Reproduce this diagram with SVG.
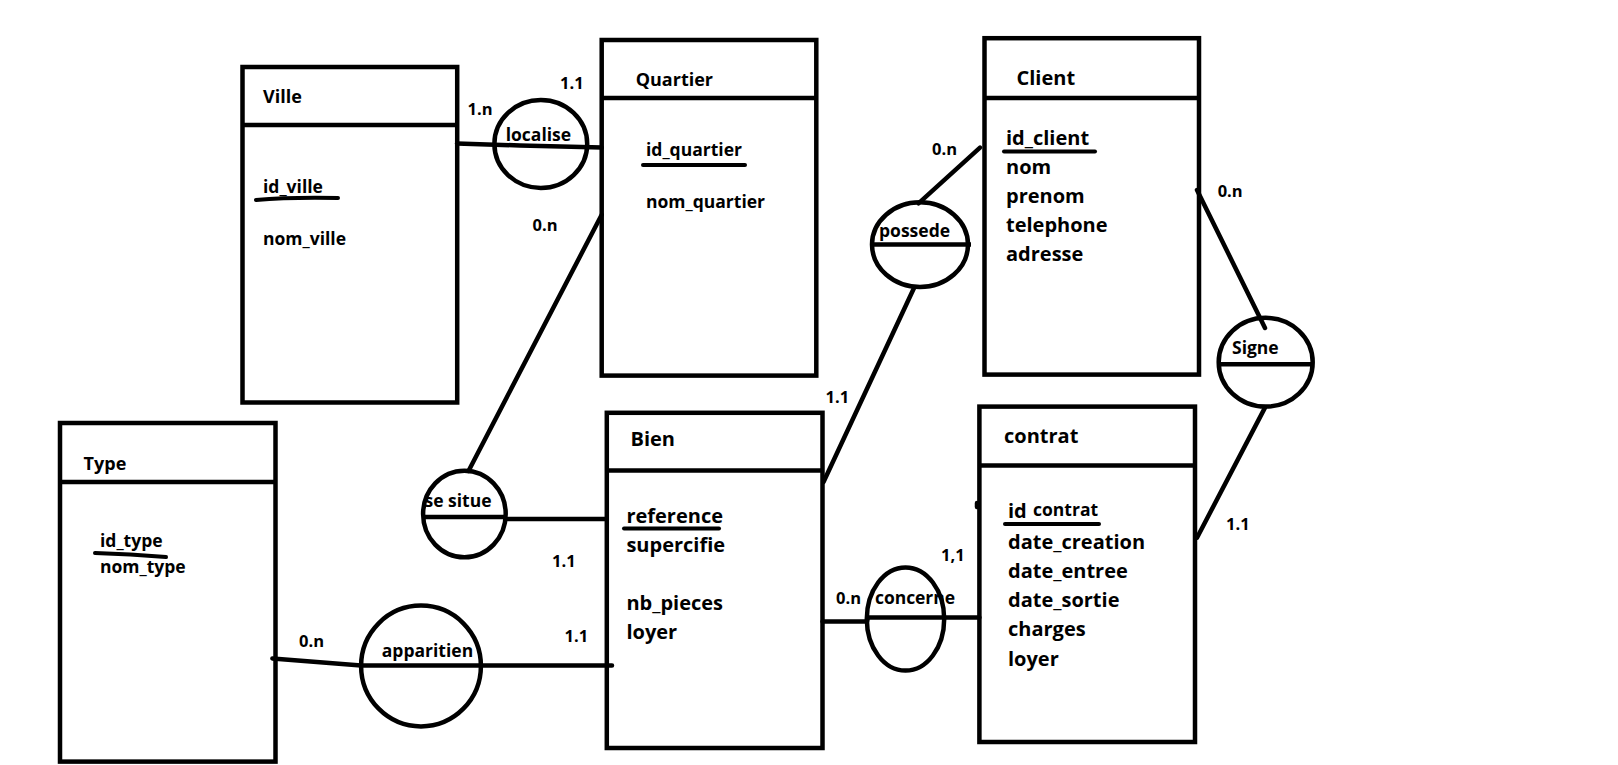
<svg xmlns="http://www.w3.org/2000/svg" width="1618" height="765" viewBox="0 0 1618 765">
<style>
.box{fill:none;stroke:#000;stroke-width:4.5}
.ln{fill:none;stroke:#000;stroke-width:4.5;stroke-linecap:round}
.ul{fill:none;stroke:#000;stroke-width:4;stroke-linecap:round}
.ass{fill:none;stroke:#000;stroke-width:4.5}
text{font-family:"Open Sans","Noto Sans","Liberation Sans",sans-serif;font-weight:700;fill:#000}
.t1{font-size:18px}
.t2{font-size:20px}
.a1{font-size:17.5px}
.a2{font-size:20px}
.an{font-size:17.5px}
.card{font-size:16.5px}
</style>
<rect width="1618" height="765" fill="#fff"/>
<g id="connectors">
<polyline class="ln" points="457,143.5 520,145.5 601.7,147.5"/>
<line class="ln" x1="468.5" y1="471" x2="601.7" y2="214.7"/>
<line class="ln" x1="505.7" y1="519" x2="606.8" y2="519"/>
<polyline class="ln" points="272.4,658.4 361,665.6 612,665.6"/>
<line class="ln" x1="918.5" y1="203.3" x2="980" y2="147.6"/>
<line class="ln" x1="914" y1="288" x2="823.5" y2="482"/>
<line class="ln" x1="1197" y1="190" x2="1265" y2="328"/>
<line class="ln" x1="1265" y1="407.6" x2="1197" y2="537.7"/>
<polyline class="ln" points="822.5,621.5 867,621.5 868,617.5 979.4,617.5"/>
<line class="ln" x1="977" y1="503" x2="977" y2="507"/>
</g>
<g id="labels">
<text class="card" x="467.5" y="115">1.n</text>
<text class="card" x="560" y="89">1.1</text>
<text class="card" x="532.5" y="231">0.n</text>
<text class="card" x="552" y="567">1.1</text>
<text class="card" x="299" y="647">0.n</text>
<text class="card" x="564.5" y="642">1.1</text>
<text class="card" x="932" y="155">0.n</text>
<text class="card" x="825.6" y="403">1.1</text>
<text class="card" x="1217.7" y="197">0.n</text>
<text class="card" x="1226" y="530">1.1</text>
<text class="card" x="836" y="604">0.n</text>
<text class="card" x="941" y="561">1,1</text>
</g>
<g id="ville">
<rect class="box" x="242.5" y="67" width="214.7" height="335.5"/>
<line class="box" x1="242.5" y1="125" x2="457.2" y2="125"/>
<text class="t1" x="263" y="103">Ville</text>
<text class="a1" x="263" y="193">id_ville</text>
<path class="ul" d="M256,200 Q290,197 338,198"/>
<text class="a1" x="263" y="245">nom_ville</text>
</g>
<g id="quartier">
<rect class="box" x="601.7" y="40" width="214.6" height="335.6"/>
<line class="box" x1="601.7" y1="98" x2="816.3" y2="98"/>
<text class="t1" x="635.7" y="86">Quartier</text>
<text class="a1" x="646" y="156">id_quartier</text>
<line class="ul" x1="643" y1="165" x2="745" y2="165"/>
<text class="a1" x="646" y="208">nom_quartier</text>
</g>
<g id="client">
<rect class="box" x="984.5" y="38.2" width="214.5" height="336.4"/>
<line class="box" x1="984.5" y1="98" x2="1199" y2="98"/>
<text class="t2" x="1016.5" y="85">Client</text>
<text class="a2" x="1006" y="145">id_client</text>
<line class="ul" x1="1004" y1="151.5" x2="1095" y2="151.5"/>
<text class="a2" x="1006" y="174">nom</text>
<text class="a2" x="1006" y="203">prenom</text>
<text class="a2" x="1006" y="232">telephone</text>
<text class="a2" x="1006" y="260.5">adresse</text>
</g>
<g id="type">
<rect class="box" x="60" y="423" width="215.5" height="338.6"/>
<line class="box" x1="60" y1="482" x2="275.5" y2="482"/>
<text class="t1" x="83.6" y="470">Type</text>
<text class="a1" x="100" y="547">id_type</text>
<path class="ul" d="M95,553 Q130,554 166,557"/>
<text class="a1" x="100" y="573">nom_type</text>
</g>
<g id="bien">
<rect class="box" x="606.8" y="412.8" width="215.7" height="335.2"/>
<line class="box" x1="606.8" y1="470.6" x2="822.5" y2="470.6"/>
<text class="t2" x="630.5" y="446">Bien</text>
<text class="a2" x="626.4" y="523">reference</text>
<line class="ul" x1="624" y1="528.5" x2="719" y2="528.5"/>
<text class="a2" x="626.4" y="552">supercifie</text>
<text class="a2" x="626.4" y="610">nb_pieces</text>
<text class="a2" x="626.4" y="639">loyer</text>
</g>
<g id="contrat">
<rect class="box" x="979.4" y="406.6" width="215.6" height="335.4"/>
<line class="box" x1="979.4" y1="465.4" x2="1195" y2="465.4"/>
<text class="t2" x="1004" y="443">contrat</text>
<text class="a2" x="1008" y="518">id</text>
<text class="a1" x="1033" y="516" font-weight="600">contrat</text>
<line class="ul" x1="1005" y1="524" x2="1099" y2="524"/>
<text class="a2" x="1008" y="549">date_creation</text>
<text class="a2" x="1008" y="578">date_entree</text>
<text class="a2" x="1008" y="607">date_sortie</text>
<text class="a2" x="1008" y="636">charges</text>
<text class="a2" x="1008" y="666">loyer</text>
</g>
<g id="localise">
<ellipse class="ass" cx="540.8" cy="144" rx="46.4" ry="43.9"/>
<text class="an" x="505.7" y="141">localise</text>
</g>
<g id="se_situe">
<ellipse class="ass" cx="464.4" cy="514" rx="41.3" ry="43.3"/>
<line class="ass" x1="423" y1="517" x2="505.7" y2="517"/>
<text class="an" x="424.5" y="507">se situe</text>
</g>
<g id="apparitien">
<ellipse class="ass" cx="421" cy="666" rx="59.9" ry="60.4"/>
<text class="an" x="381.8" y="657">apparitien</text>
</g>
<g id="possede">
<ellipse class="ass" cx="920" cy="244.6" rx="48" ry="42.3"/>
<line class="ass" x1="872" y1="244.6" x2="971" y2="244.6"/>
<text class="an" x="879" y="237">possede</text>
</g>
<g id="signe">
<ellipse class="ass" cx="1265.7" cy="362.2" rx="47" ry="44.4"/>
<line class="ass" x1="1219" y1="364.3" x2="1312.7" y2="364.3"/>
<text class="an" x="1232" y="354">Signe</text>
</g>
<g id="concerne">
<ellipse class="ass" cx="905.5" cy="619" rx="38.7" ry="51.6"/>
<text class="an" x="875" y="604" textLength="80" font-weight="600">concerne</text>
</g>
</svg>
